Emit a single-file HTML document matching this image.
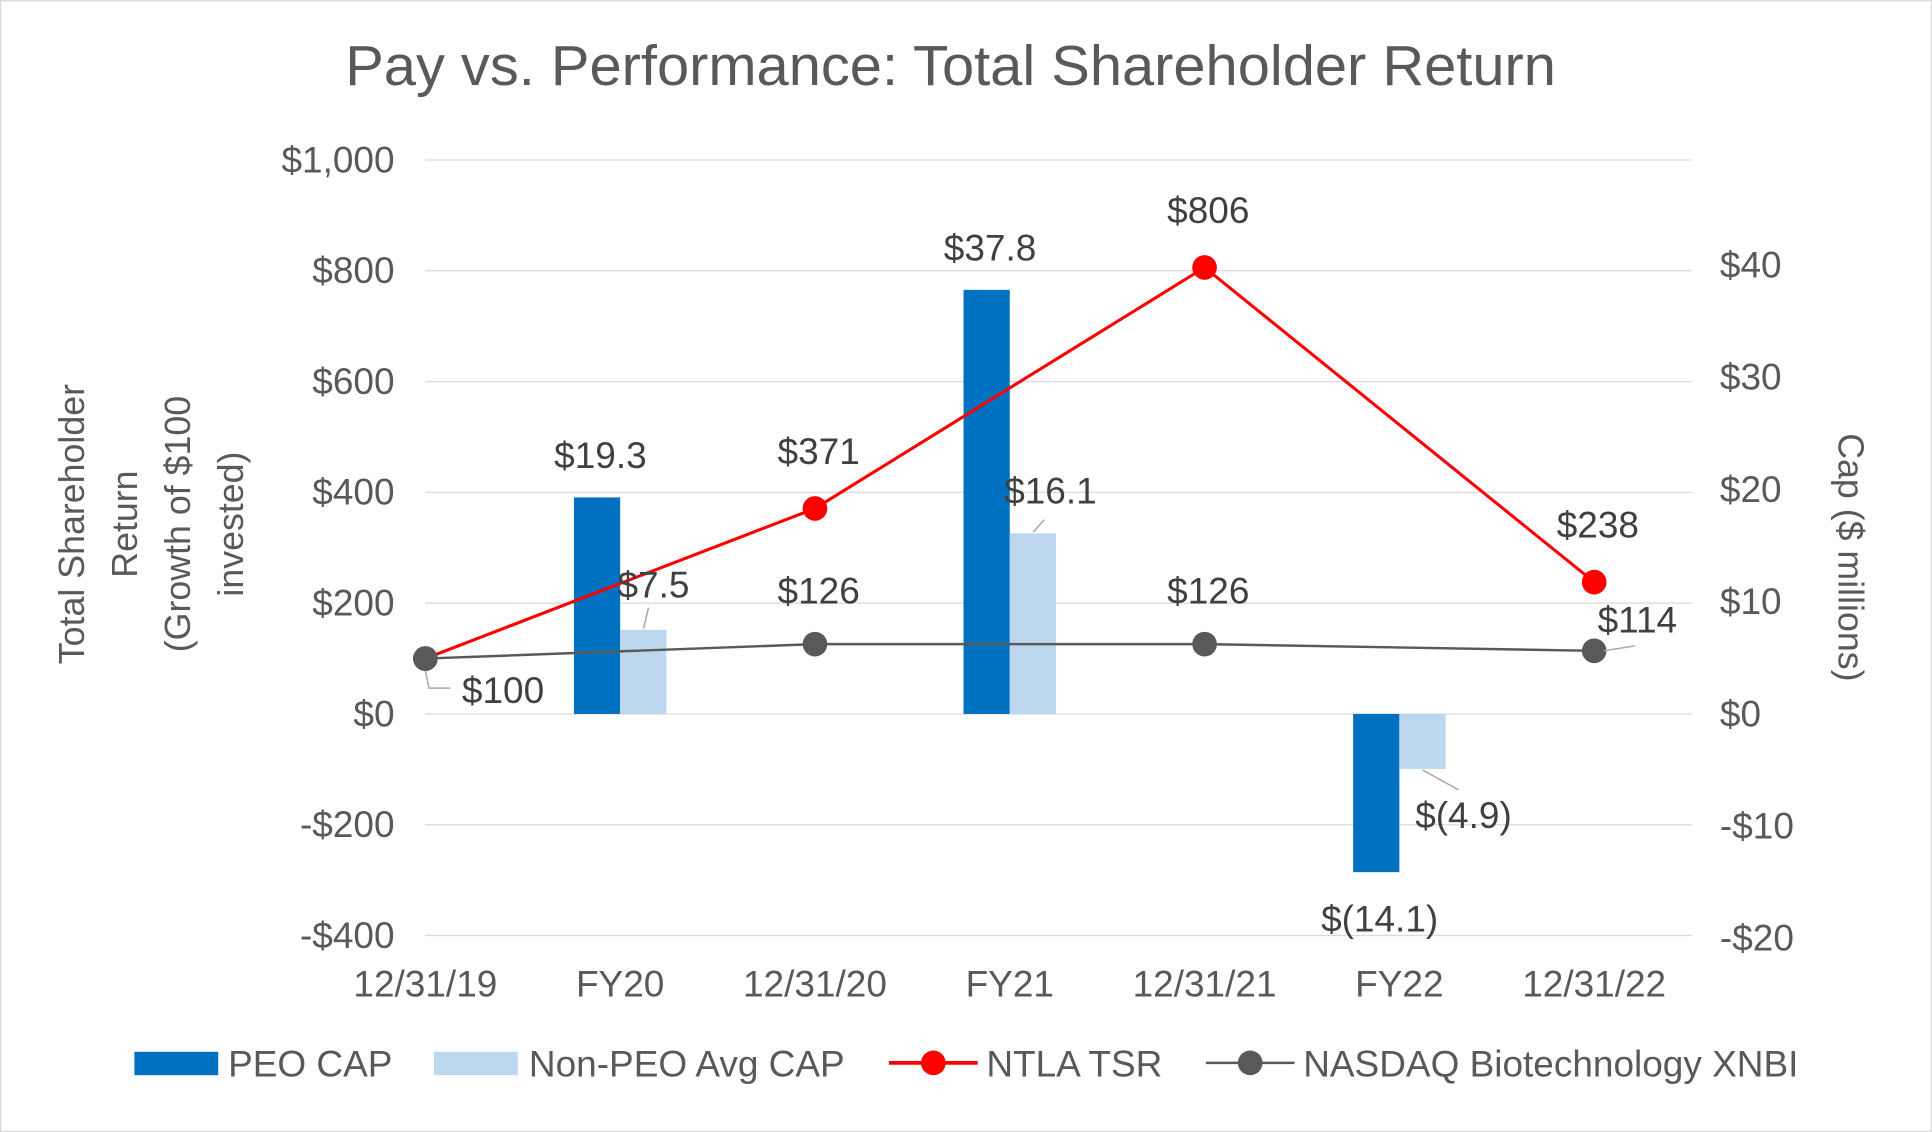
<!DOCTYPE html>
<html><head><meta charset="utf-8"><style>
html,body{margin:0;padding:0;background:#fff;}
svg{display:block;font-family:"Liberation Sans",Arial,sans-serif;}
</style></head><body>
<svg id="chart" width="1932" height="1132" viewBox="0 0 1567 918">
<rect x="0.5" y="0.5" width="1566" height="917" fill="#fff" stroke="#d9d9d9"/>
<text x="771" y="69" text-anchor="middle" font-size="46" fill="#595959" textLength="982" lengthAdjust="spacingAndGlyphs">Pay vs. Performance: Total Shareholder Return</text>
<g id="grid"></g>
<g id="bars"></g>
<g id="lines"></g>
<g id="axes"></g>
<g id="labels"></g>
<g font-size="29" fill="#595959">
<text transform="translate(68,425) rotate(-90)" text-anchor="middle">Total Shareholder</text>
<text transform="translate(111,425) rotate(-90)" text-anchor="middle">Return</text>
<text transform="translate(154,425) rotate(-90)" text-anchor="middle">(Growth of $100</text>
<text transform="translate(197,425) rotate(-90)" text-anchor="middle">invested)</text>
</g>
<text transform="translate(1491,452) rotate(90)" text-anchor="middle" font-size="29" fill="#595959">Cap ($ millions)</text>
<g font-size="30" fill="#595959">
<g><rect x="109" y="853" width="68" height="19" fill="#0070c0"/><text x="185" y="873">PEO CAP</text></g>
<g><rect x="352" y="853" width="68" height="19" fill="#bdd7ee"/><text x="429" y="873">Non-PEO Avg CAP</text></g>
<g><line x1="721" y1="862" x2="793" y2="862" stroke="#ff0000" stroke-width="3"/><circle cx="757" cy="862" r="10" fill="#ff0000"/><text x="800" y="873">NTLA TSR</text></g>
<g><line x1="978" y1="862" x2="1050" y2="862" stroke="#595959" stroke-width="2"/><circle cx="1014" cy="862" r="10" fill="#595959"/><text x="1057" y="873">NASDAQ Biotechnology XNBI</text></g>
</g>
</svg>
<script>
const categories = ["12/31/19","FY20","12/31/20","FY21","12/31/21","FY22","12/31/22"];
const leftTicks = [1000,800,600,400,200,0,-200,-400];
const leftTickLabels = ["$1,000","$800","$600","$400","$200","$0","-$200","-$400"];
const rightTicks = [40,30,20,10,0,-10,-20];
const rightTickLabels = ["$40","$30","$20","$10","$0","-$10","-$20"];
const barCats = ["FY20","FY21","FY22"];
const peoCap = [19.3,37.8,-14.1];
const peoLabels = ["$19.3","$37.8","$(14.1)"];
const nonPeoCap = [7.5,16.1,-4.9];
const nonPeoLabels = ["$7.5","$16.1","$(4.9)"];
const lineCats = ["12/31/19","12/31/20","12/31/21","12/31/22"];
const ntlaTsr = [100,371,806,238];
const xnbi = [100,126,126,114];

const NS="http://www.w3.org/2000/svg";
const x0=345, step=158, plotL=345, plotR=1372;
const yL=v=>579-v*0.4493;
const yR=v=>579-v*9.1;
const xC=c=>x0+categories.indexOf(c)*step;
function mk(tag,attrs,parent){const e=document.createElementNS(NS,tag);for(const k in attrs)e.setAttribute(k,attrs[k]);document.getElementById(parent).appendChild(e);return e;}
const FS=30;
leftTicks.forEach((t,i)=>{
  const g=mk('line',{x1:plotL,x2:plotR,y1:yL(t),y2:yL(t),stroke:'#d9d9d9','stroke-width':1},'grid');
  
  
  const tx=mk('text',{x:320,y:yL(t)+10,'text-anchor':'end','font-size':FS,fill:'#595959'},'axes');
  tx.textContent=leftTickLabels[i];
  
  
});
rightTicks.forEach((t,i)=>{
  const tx=mk('text',{x:1395,y:yR(t)+10,'font-size':FS,fill:'#595959'},'axes');
  tx.textContent=rightTickLabels[i];
  
  
});
categories.forEach(c=>{
  const tx=mk('text',{x:xC(c),y:808,'text-anchor':'middle','font-size':FS,fill:'#595959'},'axes');
  tx.textContent=c;
  
  
});
const bw=37.5;
barCats.forEach((c,i)=>{
  const cx=xC(c);
  const y1=yR(peoCap[i]), y0=yR(0);
  const b=mk('rect',{x:cx-bw,y:Math.min(y0,y1),width:bw,height:Math.abs(y1-y0),fill:'#0070c0'},'bars');
  
  
  const y2=yR(nonPeoCap[i]);
  const b2=mk('rect',{x:cx,y:Math.min(y0,y2),width:bw,height:Math.abs(y2-y0),fill:'#bdd7ee'},'bars');
  
  
  const l1=mk('text',{x:cx-16,y:peoCap[i]>=0?y1-24:y1+48,'text-anchor':'middle','font-size':FS,fill:'#404040'},'labels');
  l1.textContent=peoLabels[i];
  
  
  let lx,ly,ax,ay,bx,by;
  if(nonPeoCap[i]>=0){lx=cx+27;ly=y2-26;ax=cx+19;ay=y2-1;bx=cx+23;by=y2-18;if(i==1){lx=cx+33;ly=y2-24;ax=cx+19;ay=y2-1;bx=cx+28;by=y2-11;}}
  else{lx=cx+52;ly=y2+48;ax=cx+19;ay=y2+1;bx=cx+48;by=y2+17;}
  const ll=mk('line',{x1:ax,y1:ay,x2:bx,y2:by,stroke:'#a6a6a6','stroke-width':1.2},'labels');
  
  
  const l2=mk('text',{x:lx,y:ly,'text-anchor':'middle','font-size':FS,fill:'#404040'},'labels');
  l2.textContent=nonPeoLabels[i];
  
  
});
function drawLine(vals,color,w,name){
  const pts=vals.map((v,i)=>xC(lineCats[i])+','+yL(v)).join(' ');
  const pl=mk('polyline',{points:pts,fill:'none',stroke:color,'stroke-width':w},'lines');
  
  
  vals.forEach((v,i)=>{
    const c=mk('circle',{cx:xC(lineCats[i]),cy:yL(v),r:10,fill:color},'lines');
    
    
  });
}
drawLine(ntlaTsr,'#ff0000',2.5,'ntla-tsr');
drawLine(xnbi,'#595959',2,'xnbi');
ntlaTsr.forEach((v,i)=>{
  if(i==0) return;
  const t=mk('text',{x:xC(lineCats[i])+3,y:yL(v)-36,'text-anchor':'middle','font-size':FS,fill:'#404040'},'labels');
  t.textContent='$'+v;
  
  
});
xnbi.forEach((v,i)=>{
  const x=xC(lineCats[i]), y=yL(v);
  let tx=x+3, ty=y-33;
  if(i==0){tx=x+63;ty=y+36;
    const l=mk('polyline',{points:`${x},${y+10} ${x+3},${y+24} ${x+20},${y+24}`,fill:'none',stroke:'#a6a6a6','stroke-width':1.2},'labels');
    
    }
  if(i==3){tx=x+35;ty=y-15;
    const l=mk('line',{x1:x+8,y1:y,x2:x+33,y2:y-4,stroke:'#a6a6a6','stroke-width':1.2},'labels');
    
    }
  const t=mk('text',{x:tx,y:ty,'text-anchor':'middle','font-size':FS,fill:'#404040'},'labels');
  t.textContent='$'+v;
  
  
});
</script>
</body></html>
